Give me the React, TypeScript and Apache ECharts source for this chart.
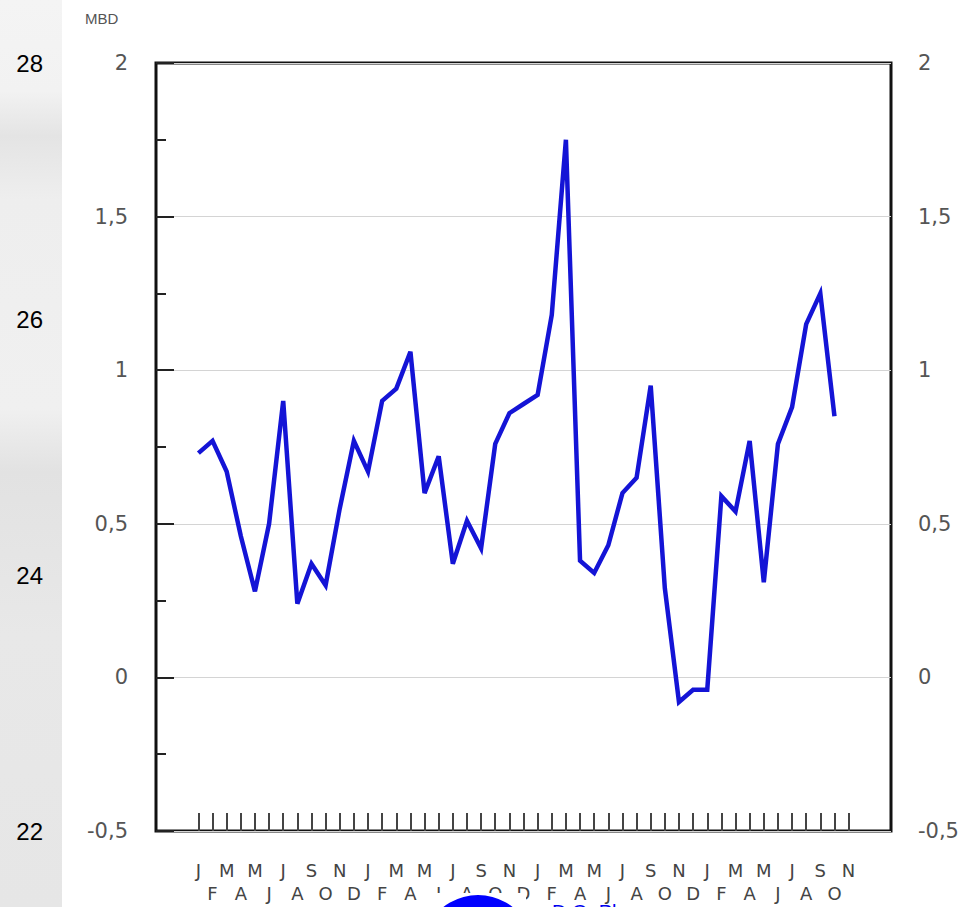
import React, { useEffect, useRef } from 'react';
import * as echarts from 'echarts';

// Month initials, Jan of year 1 through Nov of year 4
const monthLabels = [
  'J','F','M','A','M','J','J','A','S','O','N','D',
  'J','F','M','A','M','J','J','A','S','O','N','D',
  'J','F','M','A','M','J','J','A','S','O','N','D',
  'J','F','M','A','M','J','J','A','S','O','N',
];

// Monthly values (MBD), Jan year 1 .. Oct year 4
const mbdValues = [
  0.73, 0.77, 0.67, 0.46, 0.28, 0.50, 0.90, 0.24, 0.37, 0.30, 0.55, 0.77,
  0.67, 0.90, 0.94, 1.06, 0.60, 0.72, 0.37, 0.51, 0.42, 0.76, 0.86, 0.89,
  0.92, 1.18, 1.75, 0.38, 0.34, 0.43, 0.60, 0.65, 0.95, 0.29, -0.08, -0.04,
  -0.04, 0.59, 0.54, 0.77, 0.31, 0.76, 0.88, 1.15, 1.25, 0.85,
];

const innerAxisTicks = [-0.5, 0, 0.5, 1, 1.5, 2];
const outerAxisTicks = [22, 24, 26, 28];

const PAD = 3;

export default function App() {
  const ref = useRef<HTMLDivElement>(null);

  useEffect(() => {
    if (!ref.current) return;
    const chart = echarts.init(ref.current, undefined, { renderer: 'svg' });

    const total = PAD + monthLabels.length + PAD;
    const xData: string[] = [];
    for (let i = 0; i < total; i++) xData.push(String(i));
    const seriesData: (number | null)[] = [];
    for (let i = 0; i < PAD; i++) seriesData.push(null);
    mbdValues.forEach((v) => seriesData.push(v));

    const isMonth = (idx: number) => idx >= PAD && idx < PAD + monthLabels.length;
    const fmt = (_v: string, idx: number) => (isMonth(idx) ? monthLabels[idx - PAD] : '');

    const yMin = innerAxisTicks[0];
    const yMax = innerAxisTicks[innerAxisTicks.length - 1];
    const yInt = innerAxisTicks[1] - innerAxisTicks[0];
    const decimalComma = (v: number) => String(v).replace('.', ',');

    const labelFont = 'DejaVu Sans, Liberation Sans, Arial, sans-serif';

    chart.setOption({
      animation: false,
      backgroundColor: '#ffffff',
      grid: {
        left: 156,
        right: 77,
        top: 63,
        bottom: 76,
        show: true,
        borderColor: '#111',
        borderWidth: 3,
        backgroundColor: 'transparent',
      },
      xAxis: [
        {
          type: 'category',
          data: xData,
          boundaryGap: false,
          position: 'bottom',
          axisLine: { show: false, onZero: false },
          axisTick: {
            show: true,
            inside: true,
            length: 18,
            interval: (idx: number) => isMonth(idx),
            lineStyle: { color: '#444', width: 2 },
          },
          axisLabel: {
            show: true,
            interval: (idx: number) => isMonth(idx) && (idx - PAD) % 2 === 0,
            formatter: fmt,
            margin: 30,
            color: '#444',
            fontSize: 18,
            fontFamily: labelFont,
          },
          splitLine: { show: false },
        },
        {
          type: 'category',
          data: xData,
          boundaryGap: false,
          position: 'bottom',
          axisLine: { show: false, onZero: false },
          axisTick: { show: false },
          axisLabel: {
            show: true,
            interval: (idx: number) => isMonth(idx) && (idx - PAD) % 2 === 1,
            formatter: fmt,
            margin: 53,
            color: '#444',
            fontSize: 18,
            fontFamily: labelFont,
          },
          splitLine: { show: false },
        },
      ],
      yAxis: [
        {
          type: 'value',
          position: 'left',
          min: yMin,
          max: yMax,
          interval: yInt,
          axisLine: { show: false },
          axisTick: { show: true, inside: true, length: 18, lineStyle: { color: '#222', width: 2 } },
          minorTick: { show: true, splitNumber: 2, length: 10, lineStyle: { color: '#222', width: 2 } },
          axisLabel: {
            formatter: decimalComma,
            margin: 28,
            color: '#555',
            fontSize: 21,
            fontFamily: labelFont,
          },
          splitLine: { show: true, lineStyle: { color: '#d4d4d4', width: 1 } },
        },
        {
          type: 'value',
          position: 'right',
          min: yMin,
          max: yMax,
          interval: yInt,
          axisLine: { show: false },
          axisTick: { show: false },
          axisLabel: {
            formatter: decimalComma,
            margin: 27,
            color: '#555',
            fontSize: 21,
            fontFamily: labelFont,
          },
          splitLine: { show: false },
        },
        {
          type: 'value',
          position: 'left',
          offset: 105,
          min: outerAxisTicks[0],
          max: outerAxisTicks[outerAxisTicks.length - 1],
          interval: outerAxisTicks[1] - outerAxisTicks[0],
          axisLine: { show: false },
          axisTick: { show: false },
          axisLabel: {
            margin: 8,
            color: '#000',
            fontSize: 24,
            fontFamily: 'Liberation Sans, Arial, sans-serif',
          },
          splitLine: { show: false },
        },
      ],
      series: [
        {
          type: 'line',
          xAxisIndex: 0,
          yAxisIndex: 0,
          data: seriesData,
          symbol: 'none',
          connectNulls: false,
          lineStyle: { color: '#1414d6', width: 4.5, join: 'miter' },
          z: 5,
        },
      ],
      graphic: [
        {
          type: 'rect',
          z: -100,
          silent: true,
          shape: { x: 0, y: 0, width: 62, height: 907 },
          style: {
            fill: new echarts.graphic.LinearGradient(0, 0, 0, 1, [
              { offset: 0, color: '#f4f4f4' },
              { offset: 0.1, color: '#f2f2f2' },
              { offset: 0.15, color: '#e4e4e4' },
              { offset: 0.22, color: '#eeeeee' },
              { offset: 0.45, color: '#f0f0f0' },
              { offset: 0.52, color: '#e2e2e2' },
              { offset: 0.7, color: '#e8e8e8' },
              { offset: 1, color: '#e6e6e6' },
            ]),
          },
        },
        {
          type: 'text',
          z: 10,
          x: 85,
          y: 18,
          style: {
            text: 'MBD',
            fill: '#555',
            font: '15px "Liberation Sans", Arial, sans-serif',
            textVerticalAlign: 'middle',
          },
        },
        {
          type: 'rect',
          z: 50,
          silent: true,
          shape: { x: 434, y: 893, width: 92, height: 20 },
          style: { fill: '#ffffff' },
        },
        {
          type: 'circle',
          z: 60,
          silent: true,
          shape: { cx: 478, cy: 951, r: 56 },
          style: { fill: '#0000ff' },
        },
        {
          type: 'text',
          z: 60,
          x: 552,
          y: 902,
          style: {
            text: 'D.O. Pl',
            fill: '#0000ee',
            font: '20px "Liberation Sans", Arial, sans-serif',
            textVerticalAlign: 'top',
          },
        },
      ],
    });

    return () => chart.dispose();
  }, []);

  return (
    <div
      ref={ref}
      style={{ position: 'fixed', left: 0, top: 0, width: 968, height: 907 }}
    />
  );
}
